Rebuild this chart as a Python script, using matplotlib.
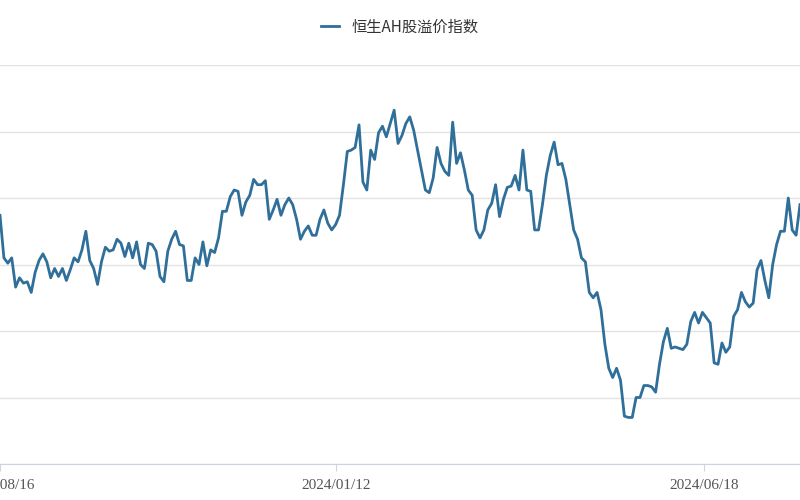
import matplotlib
matplotlib.use('Agg')
import matplotlib.pyplot as plt

plt.rcParams['font.family'] = ['Noto Sans CJK SC', 'DejaVu Sans']

# 数据（按图像读数估计）
series_name = '恒生AH股溢价指数'
tick_labels = ['2023/08/16', '2024/01/12', '2024/06/18']
values = [
    143.7, 140.5, 140.1, 140.5, 138.3, 139.0, 138.6, 138.7, 137.9, 139.4,
    140.3, 140.8, 140.2, 139.0, 139.7, 139.1, 139.7, 138.8, 139.6, 140.5,
    140.2, 141.1, 142.5, 140.3, 139.7, 138.5, 140.2, 141.3, 141.0, 141.1,
    141.9, 141.6, 140.6, 141.6, 140.5, 141.7, 140.0, 139.7, 141.6, 141.5,
    141.0, 139.1, 138.7, 141.0, 141.9, 142.5, 141.5, 141.4, 138.8, 138.8,
    140.5, 140.0, 141.7, 139.9, 141.1, 140.9, 142.0, 144.0, 144.0, 145.1,
    145.6, 145.5, 143.7, 144.7, 145.2, 146.4, 146.0, 146.0, 146.3, 143.4,
    144.1, 144.9, 143.7, 144.5, 145.0, 144.5, 143.4, 141.9, 142.5, 142.9,
    142.2, 142.2, 143.4, 144.1, 143.1, 142.6, 143.0, 143.7, 146.0, 148.5,
    148.6, 148.8, 150.5, 146.2, 145.6, 148.6, 147.9, 149.9, 150.4, 149.6,
    150.6, 151.6, 149.1, 149.7, 150.6, 151.1, 150.1, 148.6, 147.1, 145.6,
    145.4, 146.5, 148.8, 147.6, 147.0, 146.7, 150.7, 147.6, 148.4, 147.1,
    145.6, 145.2, 142.6, 142.0, 142.6, 144.1, 144.6, 146.0, 143.6, 144.9,
    145.8, 145.9, 146.7, 145.6, 148.6, 145.6, 145.5, 142.6, 142.6, 144.5,
    146.7, 148.2, 149.2, 147.5, 147.6, 146.4, 144.5, 142.6, 141.9, 140.5,
    140.2, 137.9, 137.5, 137.9, 136.6, 134.0, 132.2, 131.5, 132.2, 131.3,
    128.6, 128.5, 128.5, 130.0, 130.0, 130.9, 130.9, 130.8, 130.4, 132.5,
    134.2, 135.2, 133.7, 133.8, 133.7, 133.6, 134.0, 135.7, 136.4, 135.6,
    136.4, 136.0, 135.6, 132.6, 132.5, 134.1, 133.4, 133.8, 136.1, 136.6,
    137.9, 137.2, 136.8, 137.1, 139.6, 140.3, 138.8, 137.5, 140.0, 141.5,
    142.5, 142.5, 145.0, 142.6, 142.2, 144.5,
]

fig = plt.figure(figsize=(8, 5), dpi=100)
ax = fig.add_axes([0, 0.072, 1, 0.798])

x = list(range(len(values)))
ax.plot(x, values, color='#2f6f9a', linewidth=2, label=series_name)

n = len(values) - 1
ax.set_xlim(0, n)
ax.set_ylim(125, 155)
ax.set_xticks([0, n * 336 / 800, n * 704 / 800])
ax.set_xticklabels(tick_labels, fontsize=11, color='#555555', family='Liberation Serif')
ax.set_yticks(range(125, 156, 5))
ax.tick_params(axis='y', left=False, labelleft=False)
ax.tick_params(axis='x', length=5, color='#d0d5e0', pad=6)
ax.grid(axis='y', color='#e3e3e3', linewidth=1)
for s in ['top', 'left', 'right']:
    ax.spines[s].set_visible(False)
ax.spines['bottom'].set_color('#ccd3e0')

fig.legend(loc='upper center', bbox_to_anchor=(0.5, 0.99), frameon=False,
           fontsize=11, handlelength=1.2, labelcolor='#333333')

plt.savefig('out.png', dpi=100)
plt.close()
